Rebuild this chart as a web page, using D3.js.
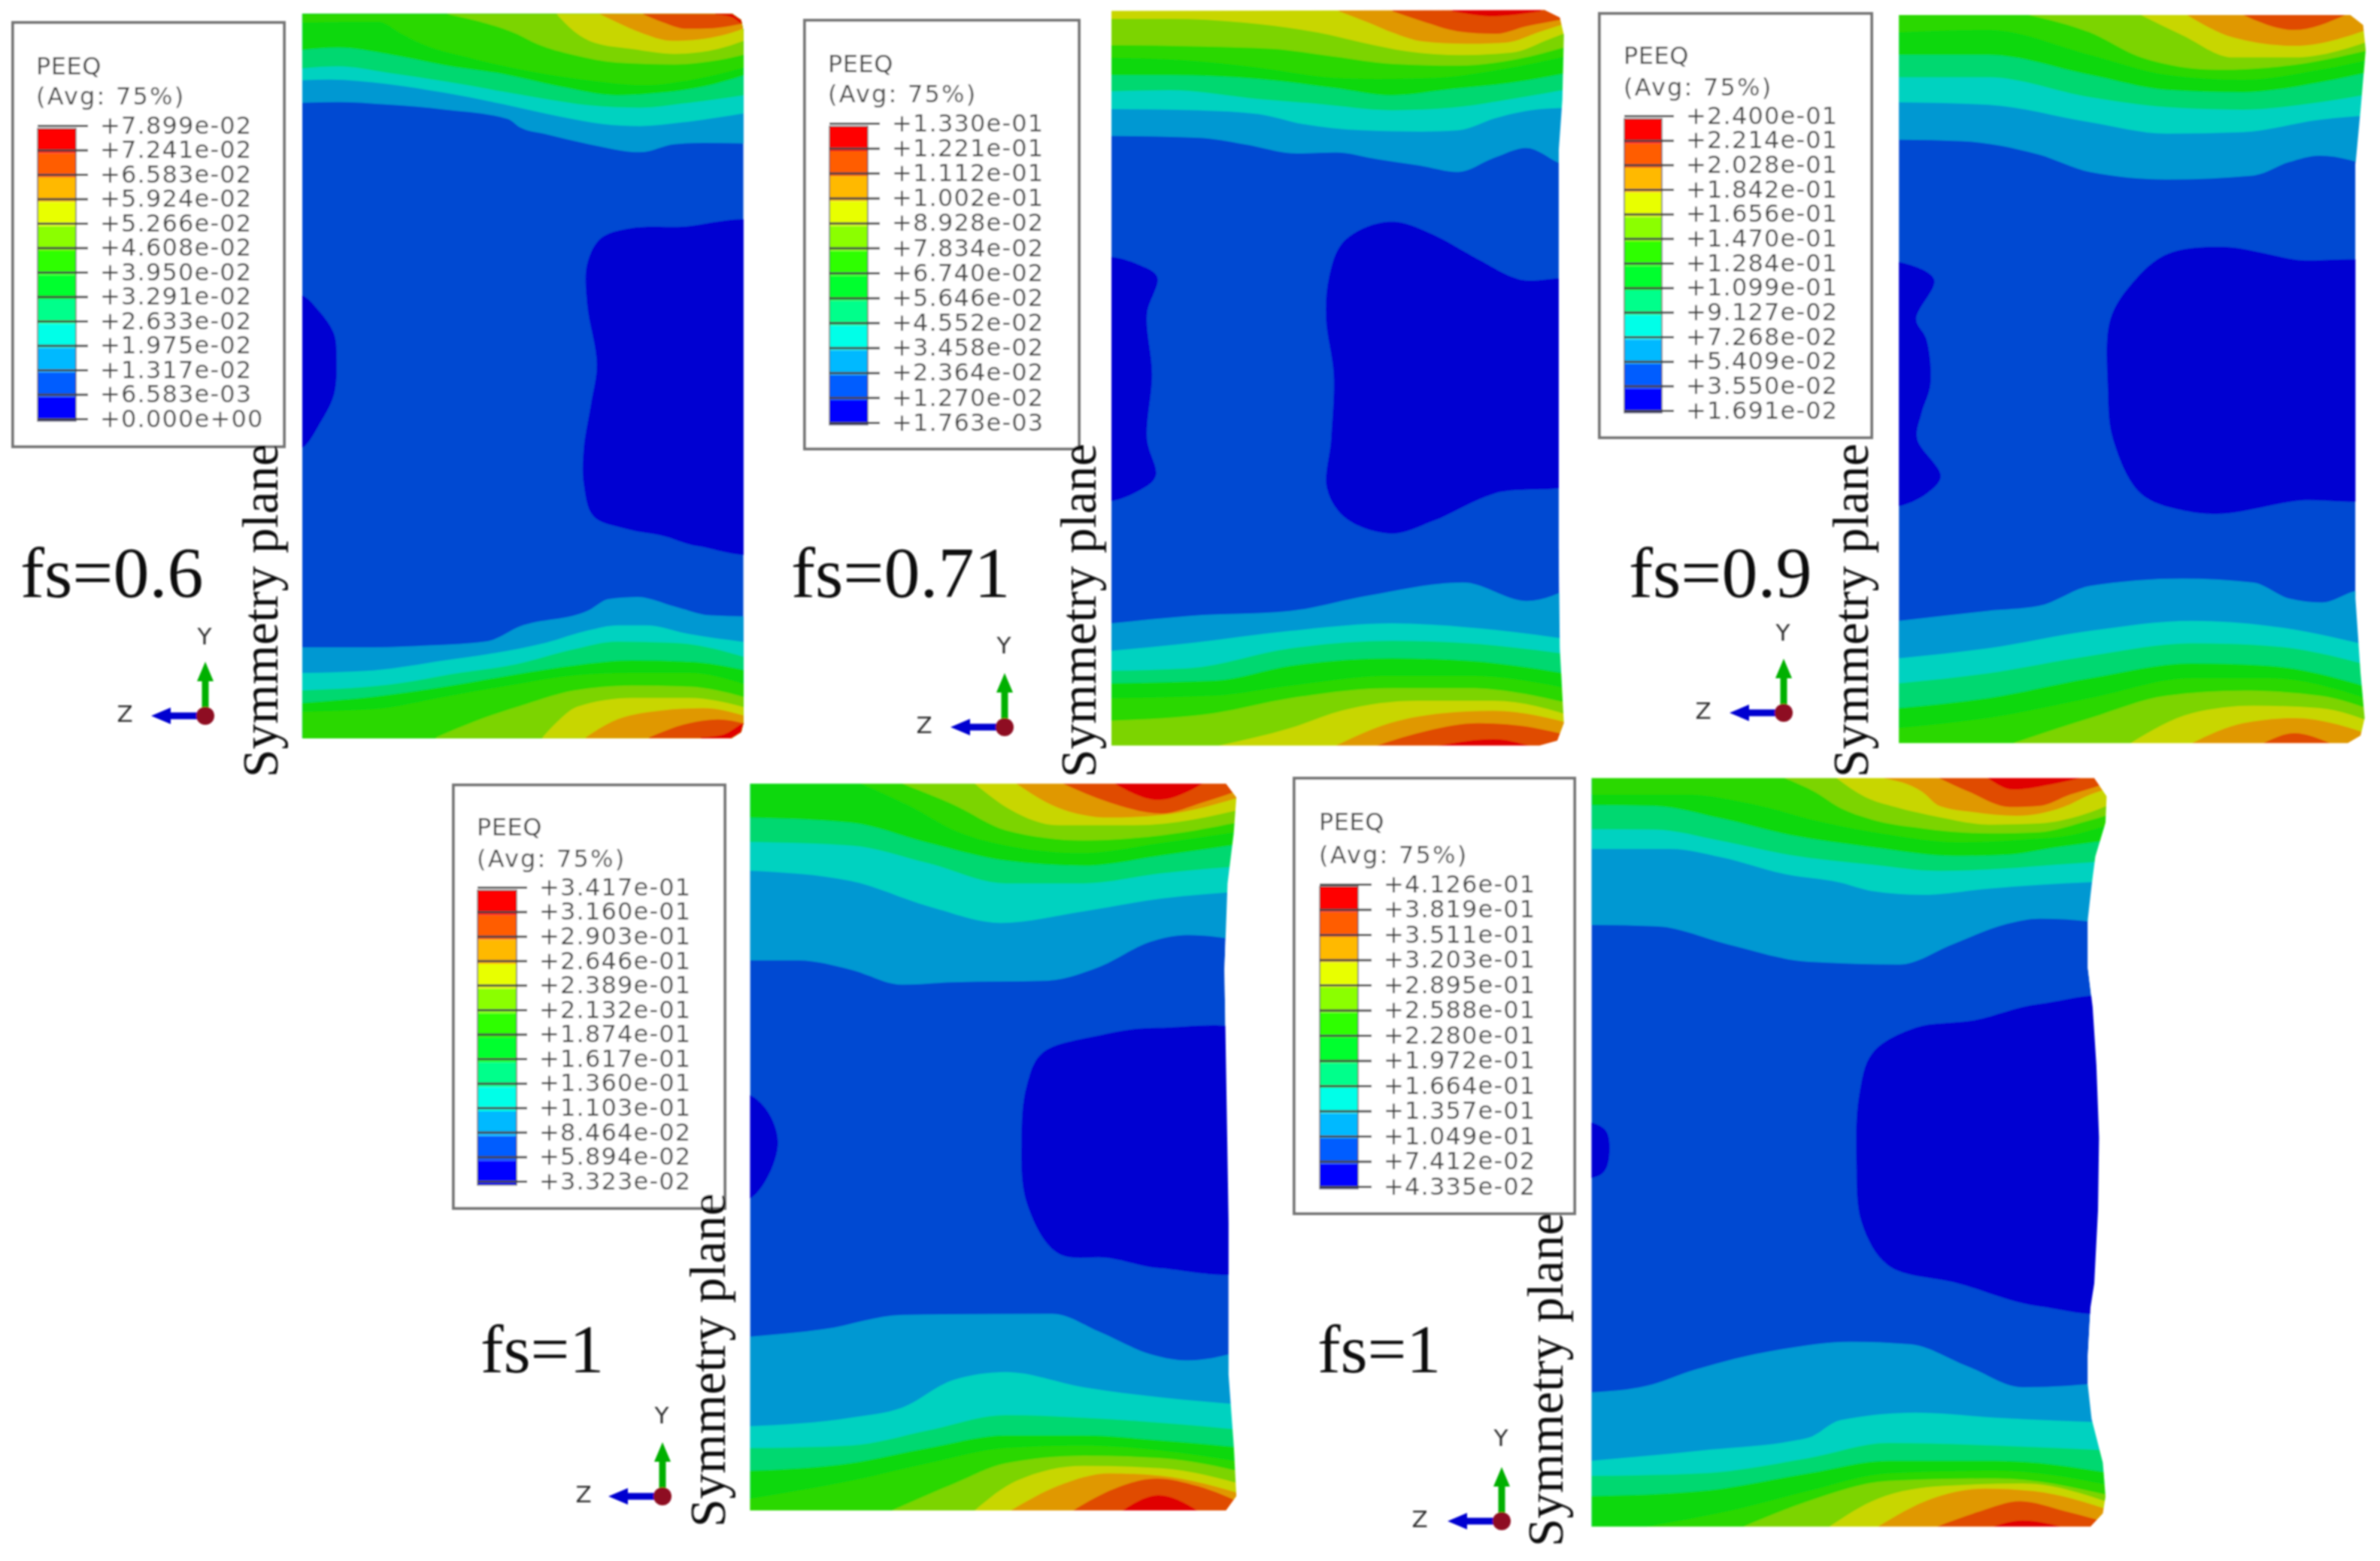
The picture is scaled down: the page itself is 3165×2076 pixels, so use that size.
<!DOCTYPE html>
<html>
<head>
<meta charset="utf-8">
<title>PEEQ contours</title>
<script src="https://cdn.jsdelivr.net/npm/d3@7"></script>
<style>
  html, body { margin: 0; padding: 0; background: #fff; }
  svg { display: block; }
  .serif { font-family: "Liberation Serif", serif; fill: #111; }
  .abq { font-family: "DejaVu Sans", sans-serif; fill: #444; }
</style>
</head>
<body>
<div id="chart"></div>
<script>
//colours, low band to high band, as the legend shows them and as the shaded model shows them
var legendColors = ["#0000ff","#005dff","#00b9ff","#00ffe8","#00ff8b","#00ff2e","#2eff00","#8bff00","#e8ff00","#ffb900","#ff5d00","#ff0000"]
var modelColors  = ["#0000d2","#0048d2","#0098d2","#00d2c0","#00d870","#08d810","#2cd800","#7cd400","#c8d600","#e09800","#e04c00","#e00404"]

//legend labels, top to bottom
var labelsA = ["+7.899e-02","+7.241e-02","+6.583e-02","+5.924e-02","+5.266e-02","+4.608e-02","+3.950e-02","+3.291e-02","+2.633e-02","+1.975e-02","+1.317e-02","+6.583e-03","+0.000e+00"]
var labelsB = ["+1.330e-01","+1.221e-01","+1.112e-01","+1.002e-01","+8.928e-02","+7.834e-02","+6.740e-02","+5.646e-02","+4.552e-02","+3.458e-02","+2.364e-02","+1.270e-02","+1.763e-03"]
var labelsC = ["+2.400e-01","+2.214e-01","+2.028e-01","+1.842e-01","+1.656e-01","+1.470e-01","+1.284e-01","+1.099e-01","+9.127e-02","+7.268e-02","+5.409e-02","+3.550e-02","+1.691e-02"]
var labelsD = ["+3.417e-01","+3.160e-01","+2.903e-01","+2.646e-01","+2.389e-01","+2.132e-01","+1.874e-01","+1.617e-01","+1.360e-01","+1.103e-01","+8.464e-02","+5.894e-02","+3.323e-02"]
var labelsE = ["+4.126e-01","+3.819e-01","+3.511e-01","+3.203e-01","+2.895e-01","+2.588e-01","+2.280e-01","+1.972e-01","+1.664e-01","+1.357e-01","+1.049e-01","+7.412e-02","+4.335e-02"]

//contour lines, each panel in its own reading units (see views below)
//top/bot lists go from the lowest band upward, every line runs left to right
var outlineA = [[624,28],[1512,28],[1530,40],[1535,62],[1535,1450],[1530,1468],[1510,1480],[624,1480]]
var topA = [
  [[0,365],[130,362],[300,372],[500,392],[720,430],[760,462],[850,490],[1000,530],[1180,562],[1300,530],[1400,525],[1568,528]],
  [[0,275],[100,272],[300,290],[500,325],[700,370],[900,420],[1050,450],[1180,458],[1350,440],[1568,402]],
  [[0,228],[130,220],[300,245],[500,280],[700,320],[850,350],[1000,375],[1180,385],[1350,365],[1568,330]],
  [[0,155],[130,145],[300,170],[500,215],[700,250],[900,300],[1100,335],[1250,325],[1400,300],[1568,245]],
  [[0,45],[270,42],[350,90],[420,130],[600,190],[800,240],[1000,275],[1200,295],[1350,275],[1568,215]],
  [[510,12],[650,50],[750,90],[820,130],[950,175],[1100,205],[1300,212],[1450,195],[1568,165]],
  [[890,12],[950,80],[1020,125],[1150,150],[1300,170],[1450,150],[1568,105]],
  [[1040,12],[1100,45],[1180,85],[1290,118],[1400,110],[1500,85],[1568,55]],
  [[1190,12],[1260,45],[1340,70],[1430,68],[1510,55],[1568,40]],
  [[1440,12],[1500,25],[1525,45],[1568,70]]
]
var botA = [
  [[0,213],[250,213],[450,205],[650,188],[760,130],[1000,65],[1070,20],[1170,12],[1300,50],[1420,85],[1568,90]],
  [[0,315],[250,305],[500,265],[650,240],[850,195],[1000,145],[1100,125],[1200,125],[1350,160],[1568,195]],
  [[0,385],[350,355],[520,320],[750,280],[950,220],[1100,190],[1300,195],[1568,260]],
  [[0,435],[250,410],[500,370],[750,320],[950,285],[1150,265],[1350,270],[1568,310]],
  [[0,470],[250,460],[500,410],[750,360],[950,325],[1150,315],[1350,315],[1568,370]],
  [[470,572],[600,510],[780,440],[950,385],[1150,365],[1350,370],[1568,420]],
  [[840,572],[900,500],[960,450],[1150,415],[1350,415],[1568,460]],
  [[990,572],[1080,510],[1250,465],[1400,455],[1568,495]],
  [[1210,572],[1350,515],[1450,500],[1568,525]],
  [[1390,572],[1470,560],[1530,520],[1568,500]]
]
var blobsA = [
  [[590,592],[624,592],[660,625],[690,670],[695,720],[690,790],[660,850],[624,898],[590,898]],
  [[1600,460],[1400,455],[1300,458],[1240,478],[1212,530],[1212,610],[1232,730],[1220,810],[1205,900],[1205,970],[1225,1035],[1290,1060],[1370,1075],[1440,1095],[1600,1098]]
]

var outlineB = [[648,22],[1500,20],[1530,35],[1538,70],[1535,200],[1528,300],[1528,1100],[1530,1300],[1538,1450],[1525,1485],[1490,1495],[648,1495]]
var topB = [
  [[0,512],[300,520],[450,545],[630,582],[760,578],[900,605],[1040,630],[1171,656],[1291,600],[1400,560],[1510,620],[1568,650]],
  [[0,405],[300,410],[500,425],[650,465],[850,490],[1050,495],[1170,490],[1300,440],[1450,405],[1568,400]],
  [[0,335],[200,330],[500,365],[700,385],[950,410],[1150,400],[1350,365],[1568,320]],
  [[0,270],[200,270],[500,285],[750,320],[950,350],[1150,325],[1350,300],[1568,255]],
  [[0,200],[250,210],[500,240],[750,280],[900,285],[1100,280],[1300,250],[1568,185]],
  [[0,150],[300,155],[550,165],[750,195],[950,225],[1170,232],[1350,210],[1568,145]],
  [[0,45],[200,45],[450,60],[700,100],[850,140],[1000,175],[1180,190],[1350,180],[1480,125],[1568,85]],
  [[770,15],[880,65],[950,100],[1050,135],[1200,145],[1330,140],[1450,95],[1568,50]],
  [[950,15],[1050,55],[1170,95],[1300,105],[1400,75],[1510,50],[1568,35]],
  [[1150,15],[1200,25],[1280,35],[1390,25],[1450,15]]
]
var botB = [
  [[648,1250],[800,1235],[1000,1225],[1150,1195],[1340,1168],[1465,1205],[1568,1170]],
  [[648,1305],[800,1290],[1000,1265],[1200,1250],[1350,1258],[1568,1285]],
  [[648,1345],[800,1340],[1000,1300],[1200,1285],[1350,1290],[1568,1315]],
  [[648,1370],[850,1365],[1000,1335],[1200,1320],[1350,1325],[1568,1355]],
  [[648,1400],[850,1395],[1000,1375],[1200,1355],[1350,1355],[1568,1385]],
  [[648,1445],[850,1430],[1000,1400],[1200,1380],[1350,1380],[1568,1415]],
  [[860,1495],[1000,1460],[1100,1425],[1250,1405],[1400,1405],[1568,1440]],
  [[1090,1495],[1180,1455],[1300,1430],[1400,1425],[1568,1455]],
  [[1170,1495],[1270,1465],[1370,1450],[1450,1455],[1568,1480]],
  [[1290,1495],[1400,1482],[1470,1495]]
]
var blobsB = [
  [[600,515],[648,515],[700,530],[738,555],[718,630],[728,750],[718,880],[735,955],[700,985],[648,1005],[600,1005]],
  [[1600,572],[1450,560],[1370,520],[1280,470],[1210,445],[1150,455],[1100,490],[1075,560],[1070,640],[1085,750],[1080,880],[1072,980],[1110,1040],[1200,1070],[1280,1045],[1400,990],[1600,950]]
]

var outlineC = [[626,30],[1510,30],[1535,50],[1540,100],[1530,220],[1520,330],[1520,1200],[1530,1350],[1538,1440],[1530,1475],[1505,1490],[626,1490]]
var topC = [
  [[626,280],[750,283],[900,310],[1000,345],[1150,360],[1320,352],[1390,325],[1450,312],[1568,340]],
  [[626,205],[800,210],[1000,245],[1150,268],[1300,265],[1450,240],[1568,230]],
  [[626,155],[800,155],[1000,195],[1150,215],[1300,220],[1450,205],[1568,185]],
  [[626,110],[800,110],[1000,150],[1150,180],[1300,185],[1450,165],[1568,140]],
  [[626,65],[800,60],[1000,110],[1150,150],[1300,160],[1450,140],[1568,115]],
  [[880,30],[1000,65],[1100,115],[1250,140],[1400,130],[1568,95]],
  [[1100,30],[1180,70],[1280,115],[1400,115],[1568,75]],
  [[1190,30],[1280,75],[1400,92],[1568,50]],
  [[1300,30],[1400,60],[1500,30]]
]
var botC = [
  [[626,1245],[800,1225],[900,1215],[1000,1175],[1180,1160],[1320,1168],[1390,1200],[1455,1208],[1520,1185],[1568,1180]],
  [[626,1320],[800,1300],[1000,1265],[1200,1245],[1350,1255],[1568,1300]],
  [[626,1370],[800,1350],[1000,1315],[1200,1290],[1350,1295],[1568,1340]],
  [[626,1420],[800,1400],[1000,1360],[1200,1330],[1350,1335],[1568,1385]],
  [[626,1460],[800,1440],[1000,1400],[1200,1360],[1350,1360],[1568,1410]],
  [[850,1490],[1000,1440],[1150,1395],[1300,1385],[1450,1395],[1568,1430]],
  [[1080,1490],[1200,1430],[1320,1415],[1450,1420],[1568,1455]],
  [[1200,1490],[1300,1450],[1400,1440],[1568,1480]],
  [[1340,1490],[1400,1470],[1470,1490]]
]
var blobsC = [
  [[590,525],[626,525],[695,560],[660,640],[680,680],[688,770],[670,830],[662,880],[708,955],[680,990],[626,1015],[590,1015]],
  [[1600,547],[1400,520],[1260,495],[1150,510],[1085,565],[1040,640],[1035,780],[1045,880],[1100,990],[1190,1025],[1260,1030],[1400,1005],[1600,980]]
]

var outlineD = [[606,33],[1525,33],[1545,60],[1540,130],[1528,230],[1522,400],[1530,900],[1530,1200],[1540,1340],[1545,1440],[1525,1468],[606,1468]]
var topD = [
  [[606,382],[700,382],[800,400],[900,430],[1000,425],[1180,422],[1280,395],[1380,345],[1450,332],[1568,345]],
  [[606,205],[800,225],[950,275],[1090,308],[1250,285],[1400,260],[1568,245]],
  [[606,148],[800,155],[950,190],[1100,230],[1250,230],[1400,210],[1568,195]],
  [[606,100],[800,110],[950,150],[1100,185],[1250,195],[1400,175],[1568,150]],
  [[820,33],[920,80],[1000,125],[1100,155],[1250,170],[1400,150],[1568,125]],
  [[900,33],[1000,75],[1100,125],[1250,145],[1400,135],[1568,105]],
  [[1040,33],[1110,85],[1200,115],[1350,115],[1568,80]],
  [[1120,33],[1200,80],[1300,100],[1400,95],[1568,55]],
  [[1210,33],[1300,70],[1400,92],[1480,70],[1568,40]],
  [[1310,33],[1395,65],[1480,33]]
]
var botD = [
  [[606,1125],[750,1110],[900,1082],[1190,1080],[1280,1115],[1380,1160],[1450,1172],[1568,1150]],
  [[606,1302],[800,1285],[900,1265],[1000,1210],[1100,1195],[1250,1225],[1400,1245],[1568,1260]],
  [[606,1345],[800,1340],[950,1310],[1100,1280],[1250,1285],[1400,1295],[1568,1310]],
  [[606,1390],[800,1375],[950,1345],[1100,1320],[1250,1320],[1400,1330],[1568,1345]],
  [[606,1445],[800,1410],[950,1375],[1100,1345],[1250,1340],[1400,1350],[1568,1375]],
  [[880,1468],[1000,1415],[1100,1375],[1250,1360],[1400,1365],[1568,1395]],
  [[1040,1468],[1120,1410],[1250,1380],[1400,1385],[1568,1420]],
  [[1110,1468],[1200,1420],[1300,1395],[1400,1400],[1568,1440]],
  [[1230,1468],[1310,1425],[1390,1405],[1470,1420],[1568,1460]],
  [[1325,1468],[1395,1438],[1470,1468]]
]
var blobsD = [
  [[580,648],[606,648],[640,680],[660,740],[640,810],[606,852],[580,852]],
  [[1600,540],[1395,515],[1280,530],[1170,565],[1140,630],[1130,730],[1140,860],[1200,960],[1300,970],[1400,990],[1600,980]]
]

var outlineE = [[597,22],[1533,22],[1556,58],[1554,110],[1535,177],[1528,235],[1521,301],[1521,397],[1530,474],[1537,589],[1542,732],[1540,876],[1533,1020],[1526,1067],[1521,1163],[1521,1220],[1528,1287],[1549,1374],[1554,1441],[1549,1474],[1526,1500],[597,1500]]
var topE = [
  [[14,600],[211,606],[419,677],[659,747],[931,758],[1091,677],[1251,596],[1350,575],[1430,578],[1568,598]],
  [[15,297],[250,297],[400,330],[600,400],[750,430],[850,465],[1000,480],[1200,455],[1350,440],[1500,430],[1568,425]],
  [[15,218],[200,220],[400,265],[600,320],[850,360],[1050,385],[1250,375],[1400,360],[1568,345]],
  [[15,122],[200,125],[400,175],[600,240],[850,290],[1100,325],[1250,320],[1400,290],[1568,260]],
  [[15,80],[300,80],[500,120],[700,190],[900,240],[1100,270],[1300,260],[1450,240],[1568,195]],
  [[590,15],[680,70],[750,130],[850,180],[1000,215],[1200,235],[1350,230],[1480,190],[1568,155]],
  [[745,15],[830,90],[920,130],[1050,170],[1200,200],[1350,195],[1480,160],[1568,115]],
  [[885,15],[1000,70],[1050,125],[1150,150],[1280,165],[1420,130],[1500,80],[1568,50]],
  [[1050,15],[1140,70],[1260,130],[1350,125],[1440,80],[1515,50],[1568,25]],
  [[1195,15],[1270,60],[1400,35],[1470,15]]
]
var botE = [
  [[597,1235],[700,1222],[790,1190],[950,1150],[1080,1135],[1190,1140],[1300,1185],[1400,1225],[1568,1215]],
  [[597,1370],[800,1350],[1000,1325],[1060,1290],[1200,1275],[1350,1285],[1568,1295]],
  [[597,1400],[800,1395],[1000,1365],[1150,1335],[1350,1340],[1568,1350]],
  [[597,1440],[800,1430],[1000,1395],[1150,1370],[1350,1370],[1568,1395]],
  [[700,1500],[850,1470],[1000,1430],[1150,1395],[1350,1390],[1568,1420]],
  [[880,1500],[1000,1450],[1150,1410],[1350,1405],[1568,1440]],
  [[1040,1500],[1130,1445],[1250,1420],[1400,1415],[1568,1455]],
  [[1130,1500],[1230,1445],[1330,1425],[1420,1430],[1568,1470]],
  [[1240,1500],[1320,1470],[1395,1450],[1480,1470],[1568,1495]],
  [[1345,1500],[1400,1488],[1470,1500]]
]
var blobsE = [
  [[570,702],[597,702],[625,720],[630,770],[620,800],[597,812],[570,812]],
  [[1600,470],[1430,468],[1310,500],[1200,515],[1120,565],[1095,650],[1090,780],[1100,900],[1150,985],[1280,1020],[1430,1065],[1600,1060]]
]

var width = 3165
var height = 2076

//a view maps reading units to the page: [page x, page y, page w, page h, units w, units h]
var viewA  = [0,0,1010,1040,1568,1568]
var viewAt = [400,15,600,200,1568,600]
var viewAb = [400,790,600,200,1568,600]
var viewB  = [1040,0,1060,1040,1568,1568]
var viewBt = [1476,10,620,200,1568,600]
var viewC  = [2100,0,1065,1040,1568,1568]
var viewD  = [580,1020,1080,1056,1568,1568]
var viewE  = [1690,1020,1120,1056,1568,1568]
var viewEt = [2110,1030,700,200,1568,600]

function scalesFor(v) {
  return {
    x: d3.scaleLinear().domain([0,v[4]]).range([v[0],v[0]+v[2]]),
    y: d3.scaleLinear().domain([0,v[5]]).range([v[1],v[1]+v[3]]),
    h: v[5]
  }
}

var svg = d3.select("#chart").append("svg")
    .attr("width", width)
    .attr("height", height)

var defs = svg.append("defs")
defs.append("filter").attr("id", "soft")
    .attr("filterUnits", "userSpaceOnUse")
    .attr("x", 0).attr("y", 0).attr("width", width).attr("height", height)
    .append("feGaussianBlur").attr("stdDeviation", 1.2)

var root = svg.append("g").attr("filter", "url(#soft)")

function drawModel(id, view, outline, blobs, top, viewTop, bot, viewBot) {
  var s = scalesFor(view)
  var line = d3.line().x(function(d) { return s.x(d[0]) }).y(function(d) { return s.y(d[1]) })

  defs.append("clipPath").attr("id", "clip" + id)
      .append("path").attr("d", line(outline) + "Z")

  var g = root.append("g").attr("clip-path", "url(#clip" + id + ")")

  //base band first, then everything higher painted over it
  g.append("path").attr("d", line(outline) + "Z").attr("fill", modelColors[1])

  var blobLine = d3.line().x(function(d) { return s.x(d[0]) }).y(function(d) { return s.y(d[1]) })
      .curve(d3.curveCatmullRomClosed.alpha(0.5))
  g.selectAll(".blob").data(blobs).enter().append("path")
      .attr("class", "blob")
      .attr("d", blobLine)
      .attr("fill", modelColors[0])

  function bands(list, v, fromTop) {
    var t = scalesFor(v)
    var area = d3.area()
        .x(function(d) { return t.x(d[0]) })
        .y0(t.y(fromTop ? 0 : t.h))
        .y1(function(d) { return t.y(d[1]) })
        .curve(d3.curveMonotoneX)
    g.selectAll(".band" + fromTop).data(list).enter().append("path")
        .attr("class", "band" + fromTop)
        .attr("d", area)
        .attr("fill", function(d,i) { return modelColors[i+2] })
  }
  bands(top, viewTop, true)
  bands(bot, viewBot, false)
}

//box: [x, y, w, h], bar: [x, w, top, bottom], labels centred from first to last y
function drawLegend(labels, box, bar, textX, firstY, lastY, titleX, titleY, avgY) {
  var g = root.append("g")
  g.append("rect")
      .attr("x", box[0]).attr("y", box[1]).attr("width", box[2]).attr("height", box[3])
      .attr("fill", "#fff").attr("stroke", "#777").attr("stroke-width", 4)

  g.append("text").attr("class", "abq").attr("x", titleX).attr("y", titleY)
      .style("font-size", "32px").style("letter-spacing", "0.5px").text("PEEQ")
  g.append("text").attr("class", "abq").attr("x", titleX).attr("y", avgY)
      .style("font-size", "32px").style("letter-spacing", "2.2px").text("(Avg: 75%)")

  var band = d3.scaleBand()
      .domain(d3.range(legendColors.length).reverse())
      .range([bar[2], bar[3]])
  g.selectAll(".swatch").data(legendColors).enter().append("rect")
      .attr("class", "swatch")
      .attr("x", bar[0])
      .attr("y", function(d,i) { return band(i) })
      .attr("width", bar[1])
      .attr("height", band.bandwidth())
      .attr("fill", function(d) { return d })

  g.append("rect")
      .attr("x", bar[0]).attr("y", bar[2]).attr("width", bar[1]).attr("height", bar[3]-bar[2])
      .attr("fill", "none").attr("stroke", "#444").attr("stroke-width", 2).attr("stroke-opacity", 0.6)

  var labelY = d3.scalePoint().domain(labels).range([firstY, lastY])
  var axis = d3.axisRight(labelY)
      .tickSize(textX - bar[0] - 20)
      .tickPadding(16)
  var a = g.append("g")
      .attr("transform", "translate(" + bar[0] + ",0)")
      .call(axis)
  a.select(".domain").remove()
  a.selectAll("line").attr("stroke", "#444").attr("stroke-width", 3)
  a.selectAll("text").attr("class", "abq").attr("fill", "#444")
      .style("font-family", '"DejaVu Sans", sans-serif').style("font-size", "32px")
      .style("letter-spacing", "1.2px")
}

function drawTriad(cx, cy, yLabelY, zLabelX) {
  var g = root.append("g")
  var len = 72
  g.append("line").attr("x1", cx).attr("y1", cy).attr("x2", cx).attr("y2", cy-len+14)
      .attr("stroke", "#00b000").attr("stroke-width", 9)
  g.append("path").attr("d", d3.line()([[cx,cy-len],[cx+11,cy-len+26],[cx-11,cy-len+26]]) + "Z").attr("fill", "#00b000")
  g.append("line").attr("x1", cx).attr("y1", cy).attr("x2", cx-len+14).attr("y2", cy)
      .attr("stroke", "#0000d0").attr("stroke-width", 9)
  g.append("path").attr("d", d3.line()([[cx-len,cy],[cx-len+26,cy-11],[cx-len+26,cy+11]]) + "Z").attr("fill", "#0000d0")
  g.append("circle").attr("cx", cx).attr("cy", cy).attr("r", 12).attr("fill", "#8e0a20")
  g.append("text").attr("class", "abq").attr("x", cx-1).attr("y", yLabelY)
      .attr("text-anchor", "middle").style("font-size", "31px").style("fill", "#333").text("Y")
  g.append("text").attr("class", "abq").attr("x", zLabelX).attr("y", cy+8)
      .attr("text-anchor", "middle").style("font-size", "31px").style("fill", "#333").text("Z")
}

function drawFs(txt, x, y, size) {
  root.append("text").attr("class", "serif").attr("x", x).attr("y", y)
      .style("font-size", size + "px").text(txt)
}

function drawPlane(x, y) {
  root.append("text").attr("class", "serif")
      .attr("transform", "translate(" + x + "," + y + ") rotate(-90)")
      .style("font-size", "67.5px").text("Symmetry plane")
}

drawModel("A", viewA, outlineA, blobsA, topA, viewAt, botA, viewAb)
drawModel("B", viewB, outlineB, blobsB, topB, viewBt, botB, viewB)
drawModel("C", viewC, outlineC, blobsC, topC, viewC, botC, viewC)
drawModel("D", viewD, outlineD, blobsD, topD, viewD, botD, viewD)
drawModel("E", viewE, outlineE, blobsE, topE, viewEt, botE, viewE)

drawLegend(labelsA, [17,30,361,564], [50,51,171,560], 137, 167, 557, 48, 99, 139)
drawLegend(labelsB, [1070,27,365,570], [1103,51,168,565], 1190, 164, 562, 1101, 96, 136)
drawLegend(labelsC, [2127,18,362,564], [2160,50,158,549], 2246, 154, 546, 2159, 85, 127)
drawLegend(labelsD, [603,1044,361,563], [635,52,1184,1576], 721, 1180, 1571, 634, 1111, 1153)
drawLegend(labelsE, [1721,1035,373,579], [1755,51,1179,1581], 1844, 1176, 1578, 1754, 1104, 1148)

drawPlane(369, 1034)
drawPlane(1457, 1034)
drawPlane(2484, 1034)
drawPlane(964, 2031)
drawPlane(2078, 2057)

drawFs("fs=0.6", 27, 794, 96)
drawFs("fs=0.71", 1052, 794, 96)
drawFs("fs=0.9", 2166, 794, 96)
drawFs("fs=1", 639, 1825, 92)
drawFs("fs=1", 1752, 1825, 92)

drawTriad(273, 952, 857, 166)
drawTriad(1336, 967, 869, 1229)
drawTriad(2372, 948, 852, 2265)
drawTriad(881, 1990, 1893, 776)
drawTriad(1997, 2023, 1923, 1888)
</script>
</body>
</html>
